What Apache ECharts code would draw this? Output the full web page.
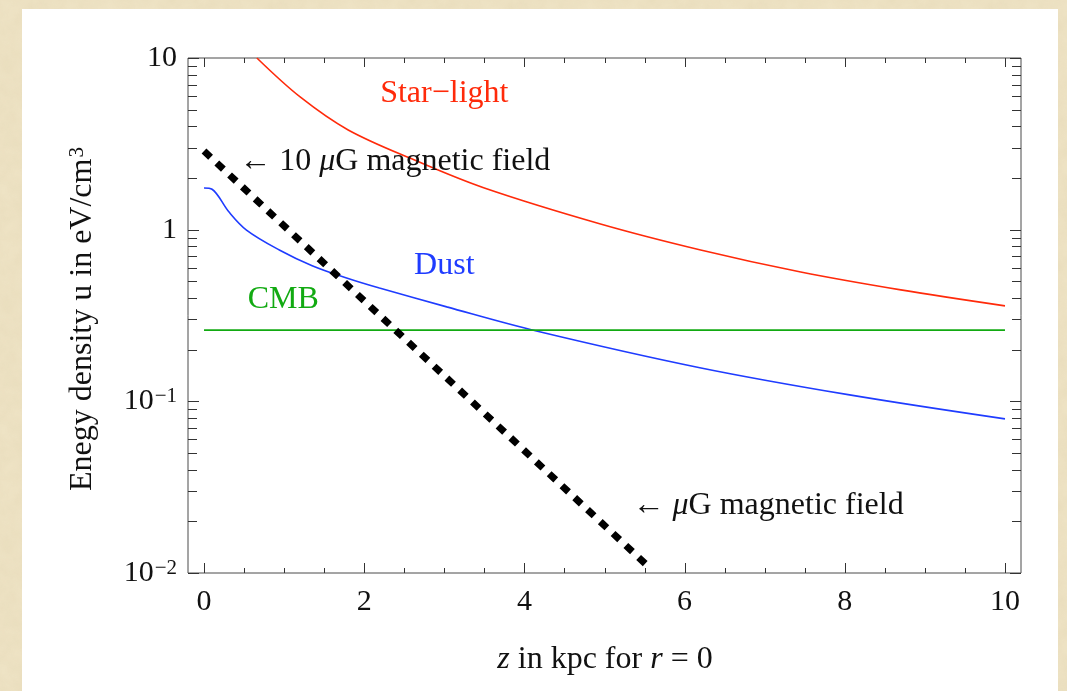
<!DOCTYPE html>
<html>
<head>
<meta charset="utf-8">
<script src="https://cdn.jsdelivr.net/npm/echarts@6/dist/echarts.min.js"></script>
<style>
  html, body { margin: 0; padding: 0; width: 1067px; height: 691px; overflow: hidden; }
  body {
    background-color: #efe4c6;
    background-image: url("data:image/svg+xml;utf8,<svg xmlns='http://www.w3.org/2000/svg' width='240' height='240'><filter id='n'><feTurbulence type='fractalNoise' baseFrequency='0.06' numOctaves='3' seed='4'/><feColorMatrix values='0 0 0 0 0.72  0 0 0 0 0.62  0 0 0 0 0.40  0 0 0 0.35 0'/></filter><rect width='240' height='240' filter='url(%23n)'/></svg>");
  }
  #panel { position: absolute; left: 22px; top: 9px; width: 1036px; height: 700px; background: #ffffff; }
  #chart { position: absolute; left: 0; top: 0; width: 1067px; height: 691px; }
</style>
</head>
<body>
<div id="panel"></div>
<div id="chart"></div>
<script>
// Energy densities along the galactic axis (r = 0), z in kpc, u in eV/cm^3
const starZ = [0.66, 1.2, 1.8, 2.65, 3.5, 4.95, 6.2, 7.45, 8.7, 10];
const starU = [10, 5.93, 3.81, 2.52, 1.75, 1.08, 0.762, 0.567, 0.446, 0.36];

const dustZ = [0, 0.1, 0.31, 0.53, 0.94, 1.35, 1.78, 2.19, 3.03, 4.15, 6.19, 8.06, 10];
const dustU = [1.75, 1.72, 1.27, 0.995, 0.762, 0.617, 0.523, 0.457, 0.355, 0.257, 0.157, 0.109, 0.079];

const cmbZ = [0, 10];
const cmbU = [0.26, 0.26];

const fieldZ = [0, 5.53];
const fieldU = [2.87, 0.0111];

// Tick positions
const zMajor = [0, 2, 4, 6, 8, 10];
const zMinor = [0.5, 1, 1.5, 2.5, 3, 3.5, 4.5, 5, 5.5, 6.5, 7, 7.5, 8.5, 9, 9.5];
const uMajor = [0.01, 0.1, 1, 10];
const uMinor = [0.02, 0.03, 0.04, 0.05, 0.06, 0.07, 0.08, 0.09,
                0.2, 0.3, 0.4, 0.5, 0.6, 0.7, 0.8, 0.9,
                2, 3, 4, 5, 6, 7, 8, 9];

// Curve annotations: [text, z, u, colour, align]
const notes = [
  ['Star\u2212light', 3.0, 6.17, '#ff2a0a', 'center'],
  ['Dust', 3.0, 0.615, '#1f3cff', 'center'],
  ['CMB', 0.99, 0.39, '#12aa12', 'center'],
  ['\u2190 10 {i|\u03bc}G magnetic field', 0.44, 2.48, '#111111', 'left'],
  ['\u2190 {i|\u03bc}G magnetic field', 5.35, 0.0246, '#111111', 'left']
];

const SERIF = '"Liberation Serif", "Times New Roman", serif';
const FS = 32;      // annotation and title size
const TFS = 30;     // tick label size

const zip = (a, b) => a.map((v, i) => [v, b[i]]);

const chart = echarts.init(document.getElementById('chart'), null, { renderer: 'canvas' });

chart.setOption({
  animation: false,
  backgroundColor: 'transparent',
  grid: {
    left: 188, top: 58, width: 833, height: 515,
    show: true, borderColor: '#4a4a4a', borderWidth: 1, backgroundColor: 'transparent'
  },
  xAxis: {
    type: 'value', min: -0.2, max: 10.2,
    axisLine: { show: false }, axisTick: { show: false }, splitLine: { show: false },
    axisLabel: {
      customValues: zMajor, margin: 14,
      fontFamily: SERIF, fontSize: TFS, color: '#111'
    }
  },
  yAxis: {
    type: 'log', logBase: 10, min: 0.01, max: 10,
    axisLine: { show: false }, axisTick: { show: false }, splitLine: { show: false },
    axisLabel: {
      margin: 11,
      fontFamily: SERIF, fontSize: TFS, color: '#111',
      formatter: function (v) {
        const p = Math.round(Math.log10(v));
        if (p === 1) return '{b|10}';
        if (p === 0) return '{b|1}';
        return '{b|10}{s|\u2212' + (-p) + '}';
      },
      rich: {
        b: { fontFamily: SERIF, fontSize: TFS, color: '#111', lineHeight: 30 },
        s: { fontFamily: SERIF, fontSize: 21, color: '#111', verticalAlign: 'top', lineHeight: 30, padding: [0, 0, 9, 1] }
      }
    }
  },
  series: [
    { name: 'Star-light', type: 'line', data: zip(starZ, starU), showSymbol: false, smooth: 0.35,
      lineStyle: { color: '#ff2a0a', width: 1.6 }, clip: true },
    { name: 'Dust', type: 'line', data: zip(dustZ, dustU), showSymbol: false, smooth: 0.35,
      lineStyle: { color: '#1f3cff', width: 1.6 }, clip: true },
    { name: 'CMB', type: 'line', data: zip(cmbZ, cmbU), showSymbol: false,
      lineStyle: { color: '#12aa12', width: 1.6 }, clip: true },
    { name: 'Magnetic field', type: 'line', data: zip(fieldZ, fieldU), showSymbol: false,
      lineStyle: { color: '#000', width: 7, type: [9, 8.5], cap: 'butt' }, clip: true }
  ]
});

// Frame ticks on all four sides and text annotations, placed through the axes
const px = v => chart.convertToPixel({ xAxisIndex: 0 }, v);
const py = v => chart.convertToPixel({ yAxisIndex: 0 }, v);
const frameL = 188, frameR = 1021, frameT = 58, frameB = 573;
const tickStyle = { stroke: '#333', lineWidth: 1 };
const g = [];
function tick(x1, y1, x2, y2) {
  g.push({ type: 'line', silent: true, shape: { x1, y1, x2, y2 }, style: tickStyle, z: 5 });
}
zMajor.forEach(v => { const x = Math.round(px(v)) + 0.5; tick(x, frameB, x, frameB - 10); tick(x, frameT, x, frameT + 9); });
zMinor.forEach(v => { const x = Math.round(px(v)) + 0.5; tick(x, frameB, x, frameB - 5); tick(x, frameT, x, frameT + 5); });
uMajor.forEach(v => { const y = Math.round(py(v)) + 0.5; tick(frameL, y, frameL + 11, y); tick(frameR, y, frameR - 11, y); });
uMinor.forEach(v => { const y = Math.round(py(v)) + 0.5; tick(frameL, y, frameL + 9, y); tick(frameR, y, frameR - 9, y); });

notes.forEach(n => {
  g.push({
    type: 'text', silent: true, z: 6,
    x: px(n[1]), y: py(n[2]),
    style: {
      text: n[0], fill: n[3], font: FS + 'px ' + SERIF,
      align: n[4], verticalAlign: 'middle',
      rich: { i: { fontFamily: SERIF, fontSize: FS, fontStyle: 'italic', fill: n[3] } }
    }
  });
});

// Axis titles
g.push({
  type: 'text', silent: true, x: 83, y: 319, rotation: Math.PI / 2,
  style: {
    text: '{a|Enegy density u in eV/cm}{s|3}', align: 'center', verticalAlign: 'middle',
    rich: {
      a: { fontFamily: SERIF, fontSize: FS, fill: '#111', lineHeight: 32 },
      s: { fontFamily: SERIF, fontSize: 21, fill: '#111', verticalAlign: 'top', lineHeight: 32, padding: [0, 0, 11, 1] }
    }
  }
});
g.push({
  type: 'text', silent: true, x: 605, y: 660,
  style: {
    text: '{i|z} in kpc for {i|r} = 0', align: 'center', verticalAlign: 'middle',
    font: FS + 'px ' + SERIF, fill: '#111',
    rich: { i: { fontFamily: SERIF, fontSize: FS, fontStyle: 'italic', fill: '#111' } }
  }
});

chart.setOption({ graphic: g });
</script>
</body>
</html>
